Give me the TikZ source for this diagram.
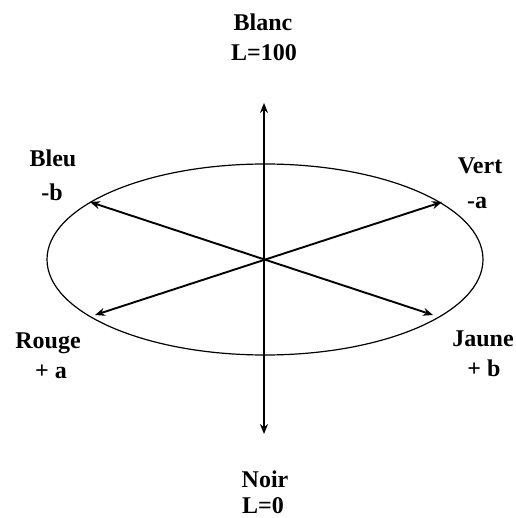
\documentclass[tikz,border=0pt]{standalone}
\usepackage{fontspec}
\setmainfont{Liberation Serif}
\usetikzlibrary{arrows.meta}
\begin{document}
\begin{tikzpicture}[x=1pt,y=-1pt,
  lab/.style={font=\fontsize{24}{28}\selectfont\bfseries, inner sep=0pt, text height=17pt, text depth=0pt, anchor=center},
  axis/.style={line width=1.9pt, {Stealth[length=10pt,width=8pt]}-{Stealth[length=10pt,width=8pt]}},
  ring/.style={line width=1.2pt}]
\useasboundingbox (0,0) rectangle (515,518);
\coordinate (c) at (265,259.5);
\draw[ring] (c) ellipse [x radius=218pt, y radius=95.5pt];
\coordinate (top) at (264,103);
\coordinate (bot) at (264,434);
\coordinate (tbleu) at (90,202);
\coordinate (tvert) at (442,202);
\coordinate (trouge) at (95,315);
\coordinate (tjaune) at (433,315);
\draw[axis] (top) -- (bot);
\draw[axis] (tbleu) -- (tjaune);
\draw[axis] (tvert) -- (trouge);
\node[lab] (blanc) at (263,22) {Blanc};
\node[lab] (l100) at (264,52) {L=100};
\node[lab] (bleu) at (53,158) {Bleu};
\node[lab] (mb) at (52,192) {-b};
\node[lab] (vert) at (480,165) {Vert};
\node[lab] (ma) at (477,200) {-a};
\node[lab] (rouge) at (48,340) {Rouge};
\node[lab] (pa) at (51,370) {+ a};
\node[lab] (jaune) at (483,338) {Jaune};
\node[lab] (pb) at (484,368) {+ b};
\node[lab] (noir) at (265,479) {Noir};
\node[lab] (l0) at (263,505) {L=0};
\end{tikzpicture}
\end{document}
